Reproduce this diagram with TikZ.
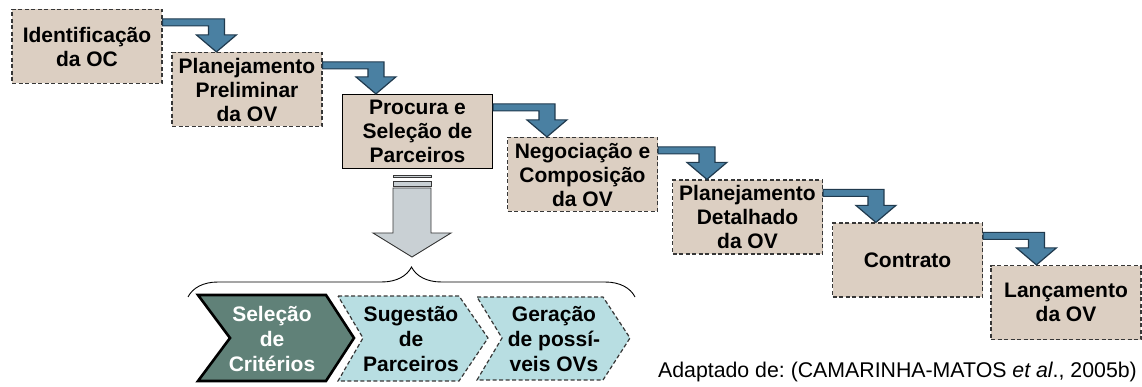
\documentclass[tikz,border=0pt]{standalone}
\usepackage{fontspec}
\setmainfont{Liberation Sans}
\usetikzlibrary{calc, decorations.pathreplacing}
\definecolor{bege}{RGB}{220,207,194}
\definecolor{contorno}{RGB}{55,55,55}
\definecolor{azulseta}{RGB}{74,128,162}
\definecolor{azulescuro}{RGB}{32,58,78}
\definecolor{cinzaseta}{RGB}{201,208,212}
\definecolor{ciano}{RGB}{184,222,226}
\definecolor{verdeescuro}{RGB}{96,129,120}

\tikzset{
  etapa/.style={draw=contorno, line width=1.2pt, dash pattern=on 4pt off 2.5pt, fill=bege,
    minimum width=150pt, minimum height=74pt, inner sep=0pt, align=center,
    font=\fontsize{21}{24}\selectfont\bfseries},
  seta/.style={fill=azulseta, draw=azulescuro, line width=1.2pt, line join=miter},
  rotulo/.style={inner sep=0pt, align=center, font=\fontsize{21}{25}\selectfont\bfseries},
}

% seta em cotovelo: da borda direita de #1 ate o topo de #2 (#3 = deslocamento da ponta)
\newcommand{\setacotovelo}[3]{%
  \draw[seta] let \p1=(#1.north east), \p2=(#2.north west) in
    (\x1,\y1-10pt) -- (\x2+#3pt+8pt,\y1-10pt) -- (\x2+#3pt+8pt,\y2+17pt)
    -- (\x2+#3pt+20pt,\y2+17pt) -- (\x2+#3pt,\y2) -- (\x2+#3pt-20pt,\y2+17pt)
    -- (\x2+#3pt-8pt,\y2+17pt) -- (\x2+#3pt-8pt,\y1-17pt) -- (\x1,\y1-17pt) -- cycle;}

\begin{document}
\frenchspacing
\begin{tikzpicture}[x=1pt, y=-1pt]
  \useasboundingbox (0,0) rectangle (1142,387);

  % etapas
  \node[etapa] (ident)    at (87,46.5)    {Identificação\\da OC};
  \node[etapa] (preplan)  at (247,89.5)   {Planejamento\\Preliminar\\da OV};
  \node[etapa, solid, draw=black] (procura) at (417.5,131.5) {Procura e\\Seleção de\\Parceiros};
  \node[etapa] (negoc)    at (582.5,174.5) {Negociação e\\Composição\\da OV};
  \node[etapa] (detal)    at (747.5,217)  {Planejamento\\Detalhado\\da OV};
  \node[etapa] (contrato) at (907.5,260)  {Contrato};
  \node[etapa] (lanc)     at (1066,302.5) {Lançamento\\da OV};

  % setas azuis
  \setacotovelo{ident}{preplan}{45}
  \setacotovelo{preplan}{procura}{34}
  \setacotovelo{procura}{negoc}{40}
  \setacotovelo{negoc}{detal}{35}
  \setacotovelo{detal}{contrato}{44}
  \setacotovelo{contrato}{lanc}{46}

  % seta cinza
  \draw[fill=cinzaseta, draw=contorno, line width=0.9pt] (393,175.5) rectangle (431,177.5);
  \draw[fill=cinzaseta, draw=contorno, line width=0.9pt] (393,181) rectangle (431,186);
  \draw[fill=cinzaseta, draw=contorno, line width=0.9pt]
    (393,188) -- (431,188) -- (431,233) -- (451,233) -- (412,257)
    -- (373,233) -- (393,233) -- cycle;

  % chave
  \draw[line width=0.9pt, decorate, decoration={brace, amplitude=30pt, aspect=0.5}]
    (188,297) -- (635,297);

  % subetapas
  \draw[fill=verdeescuro, draw=black, line width=2.6pt, line join=miter]
    (198,295) -- (326,295) -- (354,338) -- (326,381) -- (198,381) -- (230,338) -- cycle;
  \draw[fill=ciano, draw=contorno, line width=1.2pt, dash pattern=on 4pt off 2.5pt]
    (338,296) -- (459,296) -- (488,338) -- (459,381) -- (338,381) -- (363,338) -- cycle;
  \draw[fill=ciano, draw=contorno, line width=1.2pt, dash pattern=on 4pt off 2.5pt]
    (477,297) -- (603,297) -- (630,338) -- (603,380) -- (477,380) -- (502,338) -- cycle;
  \node[rotulo, text=white] (selecao) at (272,339) {Seleção\\de\\Critérios};
  \node[rotulo] (sugestao) at (411,339) {Sugestão\\de\\Parceiros};
  \node[rotulo] (geracao)  at (554,339) {Geração\\de possí-\\veis OVs};

  % fonte
  \node[anchor=east, inner sep=0pt, font=\fontsize{21.3}{24}\selectfont] (fonte) at (1137,372)
    {Adaptado de: (CAMARINHA-MATOS \textit{et al}., 2005b)};
\end{tikzpicture}
\end{document}
